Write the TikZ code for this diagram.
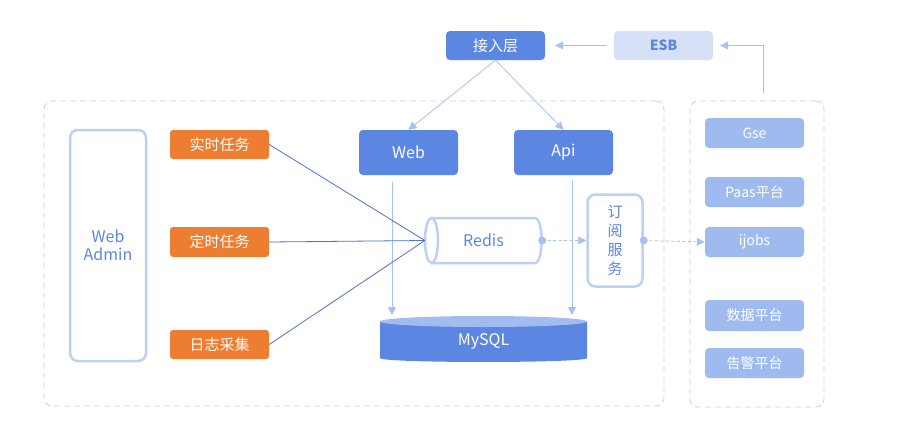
\documentclass[tikz,border=0pt]{standalone}
\usepackage{fontspec}
\setmainfont{Noto Sans CJK SC}
\usetikzlibrary{arrows.meta,calc}
\definecolor{mainblue}{HTML}{5B87E3}
\definecolor{lightline}{HTML}{BDD0F5}
\definecolor{dashcol}{HTML}{BFCFF3}
\definecolor{rightfill}{HTML}{9FBAEF}
\definecolor{esbfill}{HTML}{D6E1F8}
\definecolor{orangefill}{HTML}{ED7D31}
\definecolor{convline}{HTML}{4A74C9}
\definecolor{arrowcol}{HTML}{A9C1F2}
\definecolor{mysqltop}{HTML}{A3BCEF}
\begin{document}
\begin{tikzpicture}[x=1pt,y=-1pt,
  darkbox/.style={fill=mainblue, text=white, rounded corners=4pt, inner sep=0pt,
    minimum width=99pt, font=\fontsize{16}{19}\selectfont},
  esbbox/.style={fill=esbfill, text=mainblue, rounded corners=4pt, inner sep=0pt,
    minimum width=99pt, minimum height=29pt, font=\fontsize{14}{17}\selectfont\bfseries},
  orangebox/.style={fill=orangefill, text=white, rounded corners=3pt, inner sep=0pt,
    minimum width=99pt, font=\fontsize{15}{18}\selectfont},
  rightbox/.style={fill=rightfill, text=white, rounded corners=4pt, inner sep=0pt,
    minimum width=99pt, minimum height=30pt, font=\fontsize{14}{16}\selectfont},
  outlinebox/.style={draw=lightline, line width=2.5pt, rounded corners=8pt, text=mainblue,
    inner sep=0pt, align=center},
  container/.style={draw=dashcol, dash pattern=on 6pt off 4pt, rounded corners=8pt,
    line width=0.8pt, inner sep=0pt},
  arr/.style={draw=arrowcol, line width=0.8pt, -{Triangle[length=8pt,width=8pt]}},
  dasharr/.style={arr, dash pattern=on 3pt off 2.5pt},
  conv/.style={draw=convline, line width=0.8pt},
  plain/.style={inner sep=0pt, font=\fontsize{16}{19}\selectfont}
]
\useasboundingbox (0,0) rectangle (901,423);
\fill[white] (0,0) rectangle (901,423);

% containers
\node[container, minimum width=620pt, minimum height=305pt] (leftbox) at (354,253.5) {};
\node[container, minimum width=134pt, minimum height=306pt] (rightbox) at (757,254) {};

% top
\node[darkbox, minimum height=29pt, font=\fontsize{15}{18}\selectfont] (access) at (495.5,45.5) {接入层};
\node[esbbox] (esb) at (663.5,45.5) {ESB};

% web admin
\node[outlinebox, minimum width=76pt, minimum height=231pt,
  font=\fontsize{16}{18}\selectfont] (admin) at (108,245.5) {Web\\Admin};

% orange tasks
\node[orangebox, minimum height=29pt] (rt) at (219.5,144.5) {实时任务};
\node[orangebox, minimum height=30pt] (ds) at (219.5,242) {定时任务};
\node[orangebox, minimum height=29pt] (rz) at (219.5,344.5) {日志采集};

% web/api
\node[darkbox, minimum height=45pt] (web) at (408.5,152.5) {Web};
\node[darkbox, minimum height=45pt] (api) at (563.5,152.5) {Api};

% redis cylinder
\draw[lightline, line width=2.5pt, fill=white] (431.5,218) -- (535,218)
  .. controls (543.7,218) and (543.7,263) .. (535,263) -- (431.5,263);
\draw[lightline, line width=2.5pt, fill=white] (431.5,240.5) ellipse [x radius=6.5pt, y radius=22.5pt];
\node[plain, text=mainblue, minimum width=117pt, minimum height=45pt] (redis) at (483.5,240.5) {Redis};

% subscribe service
\node[outlinebox, minimum width=55pt, minimum height=92pt,
  font=\fontsize{15}{19}\selectfont] (sub) at (615,240.5) {订\\阅\\服\\务};

% mysql cylinder
\fill[mainblue] (380,321.5) -- (380,358) .. controls (380,363.3) and (587,363.3) .. (587,358)
  -- (587,321.5) -- cycle;
\fill[mysqltop] (483.5,321.5) ellipse [x radius=103.5pt, y radius=5.5pt];
\node[plain, text=white, minimum width=207pt, minimum height=40pt] (mysql) at (483.5,341.5) {MySQL};

% right boxes
\node[rightbox] (gse) at (754.5,133) {Gse};
\node[rightbox] (paas) at (754.5,192) {Paas平台};
\node[rightbox] (ijobs) at (754.5,242) {ijobs};
\node[rightbox, minimum height=31pt] (data) at (754.5,315.5) {数据平台};
\node[rightbox] (alarm) at (754.5,363) {告警平台};

% connectors
\draw[arr, shorten <=7pt, shorten >=10pt] (esb.west) -- (access.east);
\coordinate (rc) at ($(rightbox.north)+(6,-8)$);
\draw[arr, shorten >=7pt] (rc) |- (esb.east);
\draw[arr] (access.south) -- (web.north);
\draw[arr] (access.south) -- (api.north);

\coordinate (ws) at ($(web.south)+(-16.5,7)$);
\coordinate (as) at ($(api.south)+(8.5,5)$);
\draw[arr] (ws) -- (ws |- 0,315);
\draw[arr] (as) -- (as |- 0,315);

\draw[conv] (rt.east) -- (redis.west);
\draw[conv] (ds.east) -- (redis.west);
\draw[conv] (rz.east) -- (redis.west);

\draw[dasharr] (redis.east) -- (sub.west);
\draw[dasharr] (sub.east) -- (ijobs.west);
\fill[arrowcol] (redis.east) circle [radius=4pt];
\fill[arrowcol] (sub.east) circle [radius=4pt];
\end{tikzpicture}
\end{document}
